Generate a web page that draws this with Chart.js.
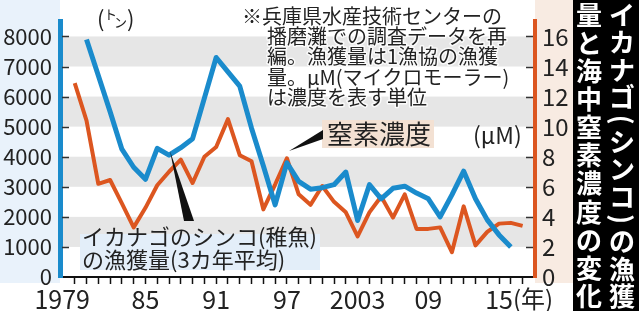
<!DOCTYPE html>
<html>
<head>
<meta charset="utf-8">
<script src="https://cdn.jsdelivr.net/npm/chart.js@4/dist/chart.umd.min.js"></script>
<style>
  html, body { margin: 0; padding: 0; background: #fff; }
  #wrap { width: 639px; height: 311px; position: relative; }
</style>
</head>
<body>
<div id="wrap"><canvas id="chartCanvas" width="639" height="311"></canvas></div>
<script>
// イカナゴ(シンコ)の漁獲量 (3カ年平均, トン) 1980-2016
var catchYears = [1980, 1981, 1982, 1983, 1984, 1985, 1986, 1987, 1988, 1989, 1990, 1991, 1992,
  1993, 1994, 1995, 1996, 1997, 1998, 1999, 2000, 2001, 2002, 2003, 2004, 2005, 2006, 2007,
  2008, 2009, 2010, 2011, 2012, 2013, 2014, 2015, 2016];
var catchTons = [7900, 6700, 5500, 4250, 3650, 3250, 4280, 4050, 4300, 4600, 5950, 7300, 6820,
  6350, 4950, 3700, 2400, 3800, 3180, 2920, 2970, 3070, 3490, 1880, 3070, 2600, 2950, 3020,
  2790, 2600, 2000, 2730, 3520, 2600, 1900, 1400, 1000];

// 海中窒素濃度 (μM) 1979-2017
var nitroYears = [1979, 1980, 1981, 1982, 1983, 1984, 1985, 1986, 1987, 1988, 1989, 1990, 1991,
  1992, 1993, 1994, 1995, 1996, 1997, 1998, 1999, 2000, 2001, 2002, 2003, 2004, 2005, 2006,
  2007, 2008, 2009, 2010, 2011, 2012, 2013, 2014, 2015, 2016, 2017];
var nitroUM = [12.9, 10.4, 6.2, 6.45, 4.9, 3.3, 4.6, 6.1, 7.0, 7.8, 6.25, 8.0, 8.65,
  10.5, 8.1, 7.7, 4.5, 6.15, 7.9, 5.5, 4.8, 6.05, 5.0, 4.3, 2.7, 4.3, 5.35, 3.95,
  5.5, 3.2, 3.2, 3.3, 1.65, 4.7, 2.1, 3.0, 3.55, 3.6, 3.4];

// axis ticks
var tickYears = [];
for (var yr = 1979; yr <= 2017; yr++) tickYears.push(yr);
var labelYears = [1979, 1985, 1991, 1997, 2003, 2009, 2015];
var labelTexts = ['1979\u2003', '85', '91', '97', '2003', '09', '15'];
var catchTicks = [0, 1000, 2000, 3000, 4000, 5000, 6000, 7000, 8000];
var nitroTicks = [0, 2, 4, 6, 8, 10, 12, 14, 16];

var FONT = "'Noto Sans CJK JP', 'Noto Sans', sans-serif";
var BLUE = '#1a8bcc';
var ORANGE = '#dc5620';

var noteLines = [
  '※兵庫県水産技術センターの',
  '播磨灘での調査データを再',
  '編。漁獲量は1漁協の漁獲',
  '量。μM(マイクロモーラー)',
  'は濃度を表す単位'
];
var titleRight = ['イ', 'カ', 'ナ', 'ゴ', '(', 'シ', 'ン', 'コ', ')', 'の', '漁', '獲'];
var titleLeft = ['量', 'と', '海', '中', '窒', '素', '濃', '度', 'の', '変', '化'];

var backdrop = {
  id: 'backdrop',
  beforeDraw: function(chart) {
    var c = chart.ctx, a = chart.chartArea, y = chart.scales.y;
    c.save();
    c.fillStyle = '#fff';
    c.fillRect(0, 0, chart.width, chart.height);
    c.fillStyle = '#e9f2fb';
    c.fillRect(0, 0, a.left, a.bottom + 6);
    c.fillStyle = '#f8ebe2';
    c.fillRect(a.right, 0, 573 - a.right, a.bottom + 6);
    c.fillStyle = '#e6e6e6';
    [1000, 3000, 5000, 7000].forEach(function(v) {
      var t = y.getPixelForValue(v + 1000), b = y.getPixelForValue(v);
      c.fillRect(a.left, t, a.right - a.left, b - t);
    });
    c.restore();
  }
};

function colText(c, chars, x, y0, adv, parAdv) {
  var y = y0;
  chars.forEach(function(ch, i) {
    var isPar = ch === '(' || ch === ')';
    var step = isPar ? parAdv : adv;
    if (i > 0) {
      var prev = chars[i - 1];
      var prevStep = (prev === '(' || prev === ')') ? parAdv : adv;
      y += prevStep / 2 + step / 2;
    }
    if (isPar) {
      c.save();
      c.translate(x, y);
      c.rotate(Math.PI / 2);
      c.fillText(ch, 0, 0);
      c.restore();
    } else {
      c.fillText(ch, x, y);
    }
  });
}

var extras = {
  id: 'extras',
  afterDraw: function(chart) {
    var c = chart.ctx, a = chart.chartArea;
    var y = chart.scales.y, y2 = chart.scales.y2;
    c.save();
    // inside ticks
    c.strokeStyle = '#333';
    c.lineWidth = 1.5;
    catchTicks.forEach(function(v) {
      if (!v) return;
      var p = Math.round(y.getPixelForValue(v)) + 0.5;
      c.beginPath(); c.moveTo(a.left + 2, p); c.lineTo(a.left + 9, p); c.stroke();
    });
    nitroTicks.forEach(function(v) {
      if (!v) return;
      var p = Math.round(y2.getPixelForValue(v)) + 0.5;
      c.beginPath(); c.moveTo(a.right - 9, p); c.lineTo(a.right - 2, p); c.stroke();
    });

    c.fillStyle = '#222';
    c.textBaseline = 'middle';
    c.textAlign = 'left';
    // unit (トン)
    c.font = '22px ' + FONT;
    c.fillText('(', 97, 19);
    c.fillText(')', 127, 19);
    c.font = '13px ' + FONT;
    c.fillText('ト', 104, 14);
    c.fillText('ン', 114, 22);

    // note
    c.font = '20px ' + FONT;
    c.lineJoin = 'round';
    var noteY = [16, 36, 56, 77, 97];
    noteLines.forEach(function(t, i) {
      var x = i === 0 ? 242 : 267;
      c.strokeStyle = 'rgba(255,255,255,0.8)';
      c.lineWidth = 3;
      c.strokeText(t, x, noteY[i]);
      c.fillStyle = '#222';
      c.fillText(t, x, noteY[i]);
    });

    // 窒素濃度 label
    c.fillStyle = '#f3e1d3';
    c.fillRect(322, 120, 112, 28);
    c.fillStyle = '#111';
    c.beginPath();
    c.moveTo(323, 130); c.lineTo(323, 139); c.lineTo(289, 151); c.closePath(); c.fill();
    c.fillStyle = '#222';
    c.font = '26px ' + FONT;
    c.fillText('窒素濃度', 327, 134);
    c.font = '23px ' + FONT;
    c.fillText('(μM)', 473, 135);

    // catch label
    c.fillStyle = '#e3eef9';
    c.fillRect(80, 234, 240, 36);
    c.fillStyle = '#111';
    c.beginPath();
    c.moveTo(170, 151); c.lineTo(184, 221); c.lineTo(194, 221); c.closePath(); c.fill();
    c.fillStyle = '#222';
    c.font = '22px ' + FONT;
    c.fillText('イカナゴのシンコ(稚魚)', 82, 237);
    c.fillText('の漁獲量(3カ年平均)', 82, 260);

    // (年)
    c.font = '24px ' + FONT;
    c.fillText('(年)', 513, 299);

    // title
    c.fillStyle = '#000';
    c.fillRect(573, 0, 66, 311);
    c.fillStyle = '#fff';
    c.textAlign = 'center';
    c.font = 'bold 26px ' + FONT;
    colText(c, titleRight, 622, 15, 27.5, 17);
    colText(c, titleLeft, 589, 15, 28.1, 28.1);
    c.restore();
  }
};

window.onload = function() {
  var ctx = document.getElementById('chartCanvas').getContext('2d');
  window.myChart = new Chart(ctx, {
    type: 'line',
    data: {
      datasets: [
        {
          label: 'イカナゴのシンコ(稚魚)の漁獲量(3カ年平均)',
          data: catchYears.map(function(yr, i) { return { x: yr, y: catchTons[i] }; }),
          yAxisID: 'y',
          borderColor: BLUE,
          borderWidth: 5,
          pointRadius: 0,
          tension: 0,
          borderJoinStyle: 'round',
          order: 0
        },
        {
          label: '窒素濃度',
          data: nitroYears.map(function(yr, i) { return { x: yr, y: nitroUM[i] }; }),
          yAxisID: 'y2',
          borderColor: ORANGE,
          borderWidth: 4,
          pointRadius: 0,
          tension: 0,
          borderJoinStyle: 'round',
          order: 1
        }
      ]
    },
    options: {
      responsive: false,
      animation: false,
      layout: { padding: { top: 3, left: 0, right: 0, bottom: 0 } },
      plugins: { legend: { display: false }, tooltip: { enabled: false } },
      scales: {
        x: {
          type: 'linear',
          min: 1977.75,
          max: 2018.05,
          afterBuildTicks: function(s) { s.ticks = tickYears.map(function(v) { return { value: v }; }); },
          afterFit: function(s) { s.height = 34; },
          border: { color: '#111', width: 2 },
          grid: { drawOnChartArea: false, drawTicks: true, tickLength: 7, color: '#111', tickWidth: 1.5 },
          ticks: {
            autoSkip: false, maxRotation: 0, padding: 0, color: '#222',
            font: { family: FONT, size: 25 },
            callback: function(v) { var k = labelYears.indexOf(v); return k < 0 ? '' : labelTexts[k]; }
          }
        },
        y: {
          position: 'left',
          min: 0,
          max: 8500,
          afterBuildTicks: function(s) { s.ticks = catchTicks.map(function(v) { return { value: v }; }); },
          afterFit: function(s) { s.width = 60; },
          border: { color: BLUE, width: 5 },
          grid: { drawOnChartArea: false, drawTicks: false },
          ticks: {
            padding: 8, color: '#222', font: { family: FONT, size: 22 },
            callback: function(v) { return String(v); }
          }
        },
        y2: {
          position: 'right',
          min: 0,
          max: 17,
          afterBuildTicks: function(s) { s.ticks = nitroTicks.map(function(v) { return { value: v }; }); },
          afterFit: function(s) { s.width = 104; },
          border: { color: ORANGE, width: 4 },
          grid: { drawOnChartArea: false, drawTicks: false },
          ticks: {
            padding: 7, color: '#222', font: { family: FONT, size: 24 },
            callback: function(v) { return String(v); }
          }
        }
      }
    },
    plugins: [backdrop, extras]
  });
};
</script>
</body>
</html>
